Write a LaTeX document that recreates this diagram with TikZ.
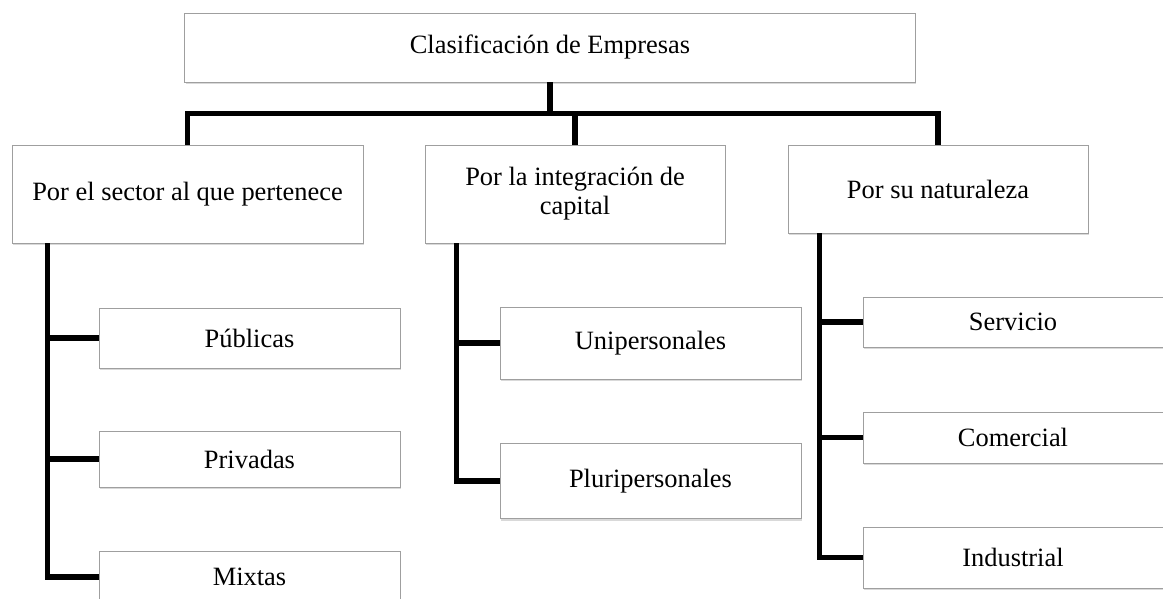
\documentclass[tikz,border=0pt]{standalone}
\usepackage{fontspec}
\setmainfont{Liberation Serif}
\usetikzlibrary{positioning,shadows}

\tikzset{
	caja/.style={draw=gray!75, line width=0.6pt, fill=white, align=center, inner sep=2pt,
		drop shadow={shadow xshift=0.9pt, shadow yshift=-1.6pt, opacity=0.3},
		font=\fontsize{18.8}{20.5}\selectfont},
	rama/.style={line width=3.6pt, black, line join=miter}
}

\begin{document}
\begin{tikzpicture}[x=0.025cm, y=-0.025cm]
		
		\path[use as bounding box] (0,0) rectangle (1163,598);
		
		% Draw the boxes
		\node[caja, minimum width=18.25cm, minimum height=1.725cm] (empresas) at (550,47.5) {Clasificación de Empresas};
		
		\node[caja, minimum width=8.775cm, minimum height=2.45cm] (sector) at (187.5,194) {Por el sector al que pertenece};
		\node[caja, minimum width=7.5cm, minimum height=2.45cm] (capital) at (575,194) {Por la integración de\\capital};
		\node[caja, minimum width=7.5cm, minimum height=2.2cm] (naturaleza) at (938,189) {Por su naturaleza};
		
		\node[caja, minimum width=7.525cm, minimum height=1.5cm] (publicas) at (249.5,338) {Públicas};
		\node[caja, minimum width=7.525cm, minimum height=1.4cm] (privadas) at (249.5,459) {Privadas};
		\node[caja, minimum width=7.525cm, minimum height=1.3cm] (mixtas) at (249.5,577) {Mixtas};
		
		\node[caja, minimum width=7.525cm, minimum height=1.8cm] (unipersonales) at (650.5,343) {Unipersonales};
		\node[caja, minimum width=7.525cm, minimum height=1.875cm] (pluripersonales) at (650.5,481) {Pluripersonales};
		
		\node[caja, minimum width=7.5cm, minimum height=1.25cm] (servicio) at (1013,322) {Servicio};
		\node[caja, minimum width=7.5cm, minimum height=1.275cm] (comercial) at (1013,437.5) {Comercial};
		\node[caja, minimum width=7.5cm, minimum height=1.525cm] (industrial) at (1013,557.5) {Industrial};
		
		% Lines from the top box
		\draw[rama] (empresas.south) -- ++(0,32);
		\draw[rama] (sector.north) -- ++(0,-31) -| (naturaleza.north);
		\draw[rama] (capital.north) -- ++(0,-31);
		
		% Lines to the sub boxes
		\coordinate (s0) at ([xshift=0.9cm]sector.south west);
		\coordinate (c0) at ([xshift=0.8cm]capital.south west);
		\coordinate (n0) at ([xshift=0.8cm]naturaleza.south west);
		
		\draw[rama] (s0) |- (mixtas.west);
		\draw[rama] (s0) |- (publicas.west);
		\draw[rama] (s0) |- (privadas.west);
		
		\draw[rama] (c0) |- (pluripersonales.west);
		\draw[rama] (c0) |- (unipersonales.west);
		
		\draw[rama] (n0) |- (industrial.west);
		\draw[rama] (n0) |- (servicio.west);
		\draw[rama] (n0) |- (comercial.west);
		
	\end{tikzpicture}
\end{document}
